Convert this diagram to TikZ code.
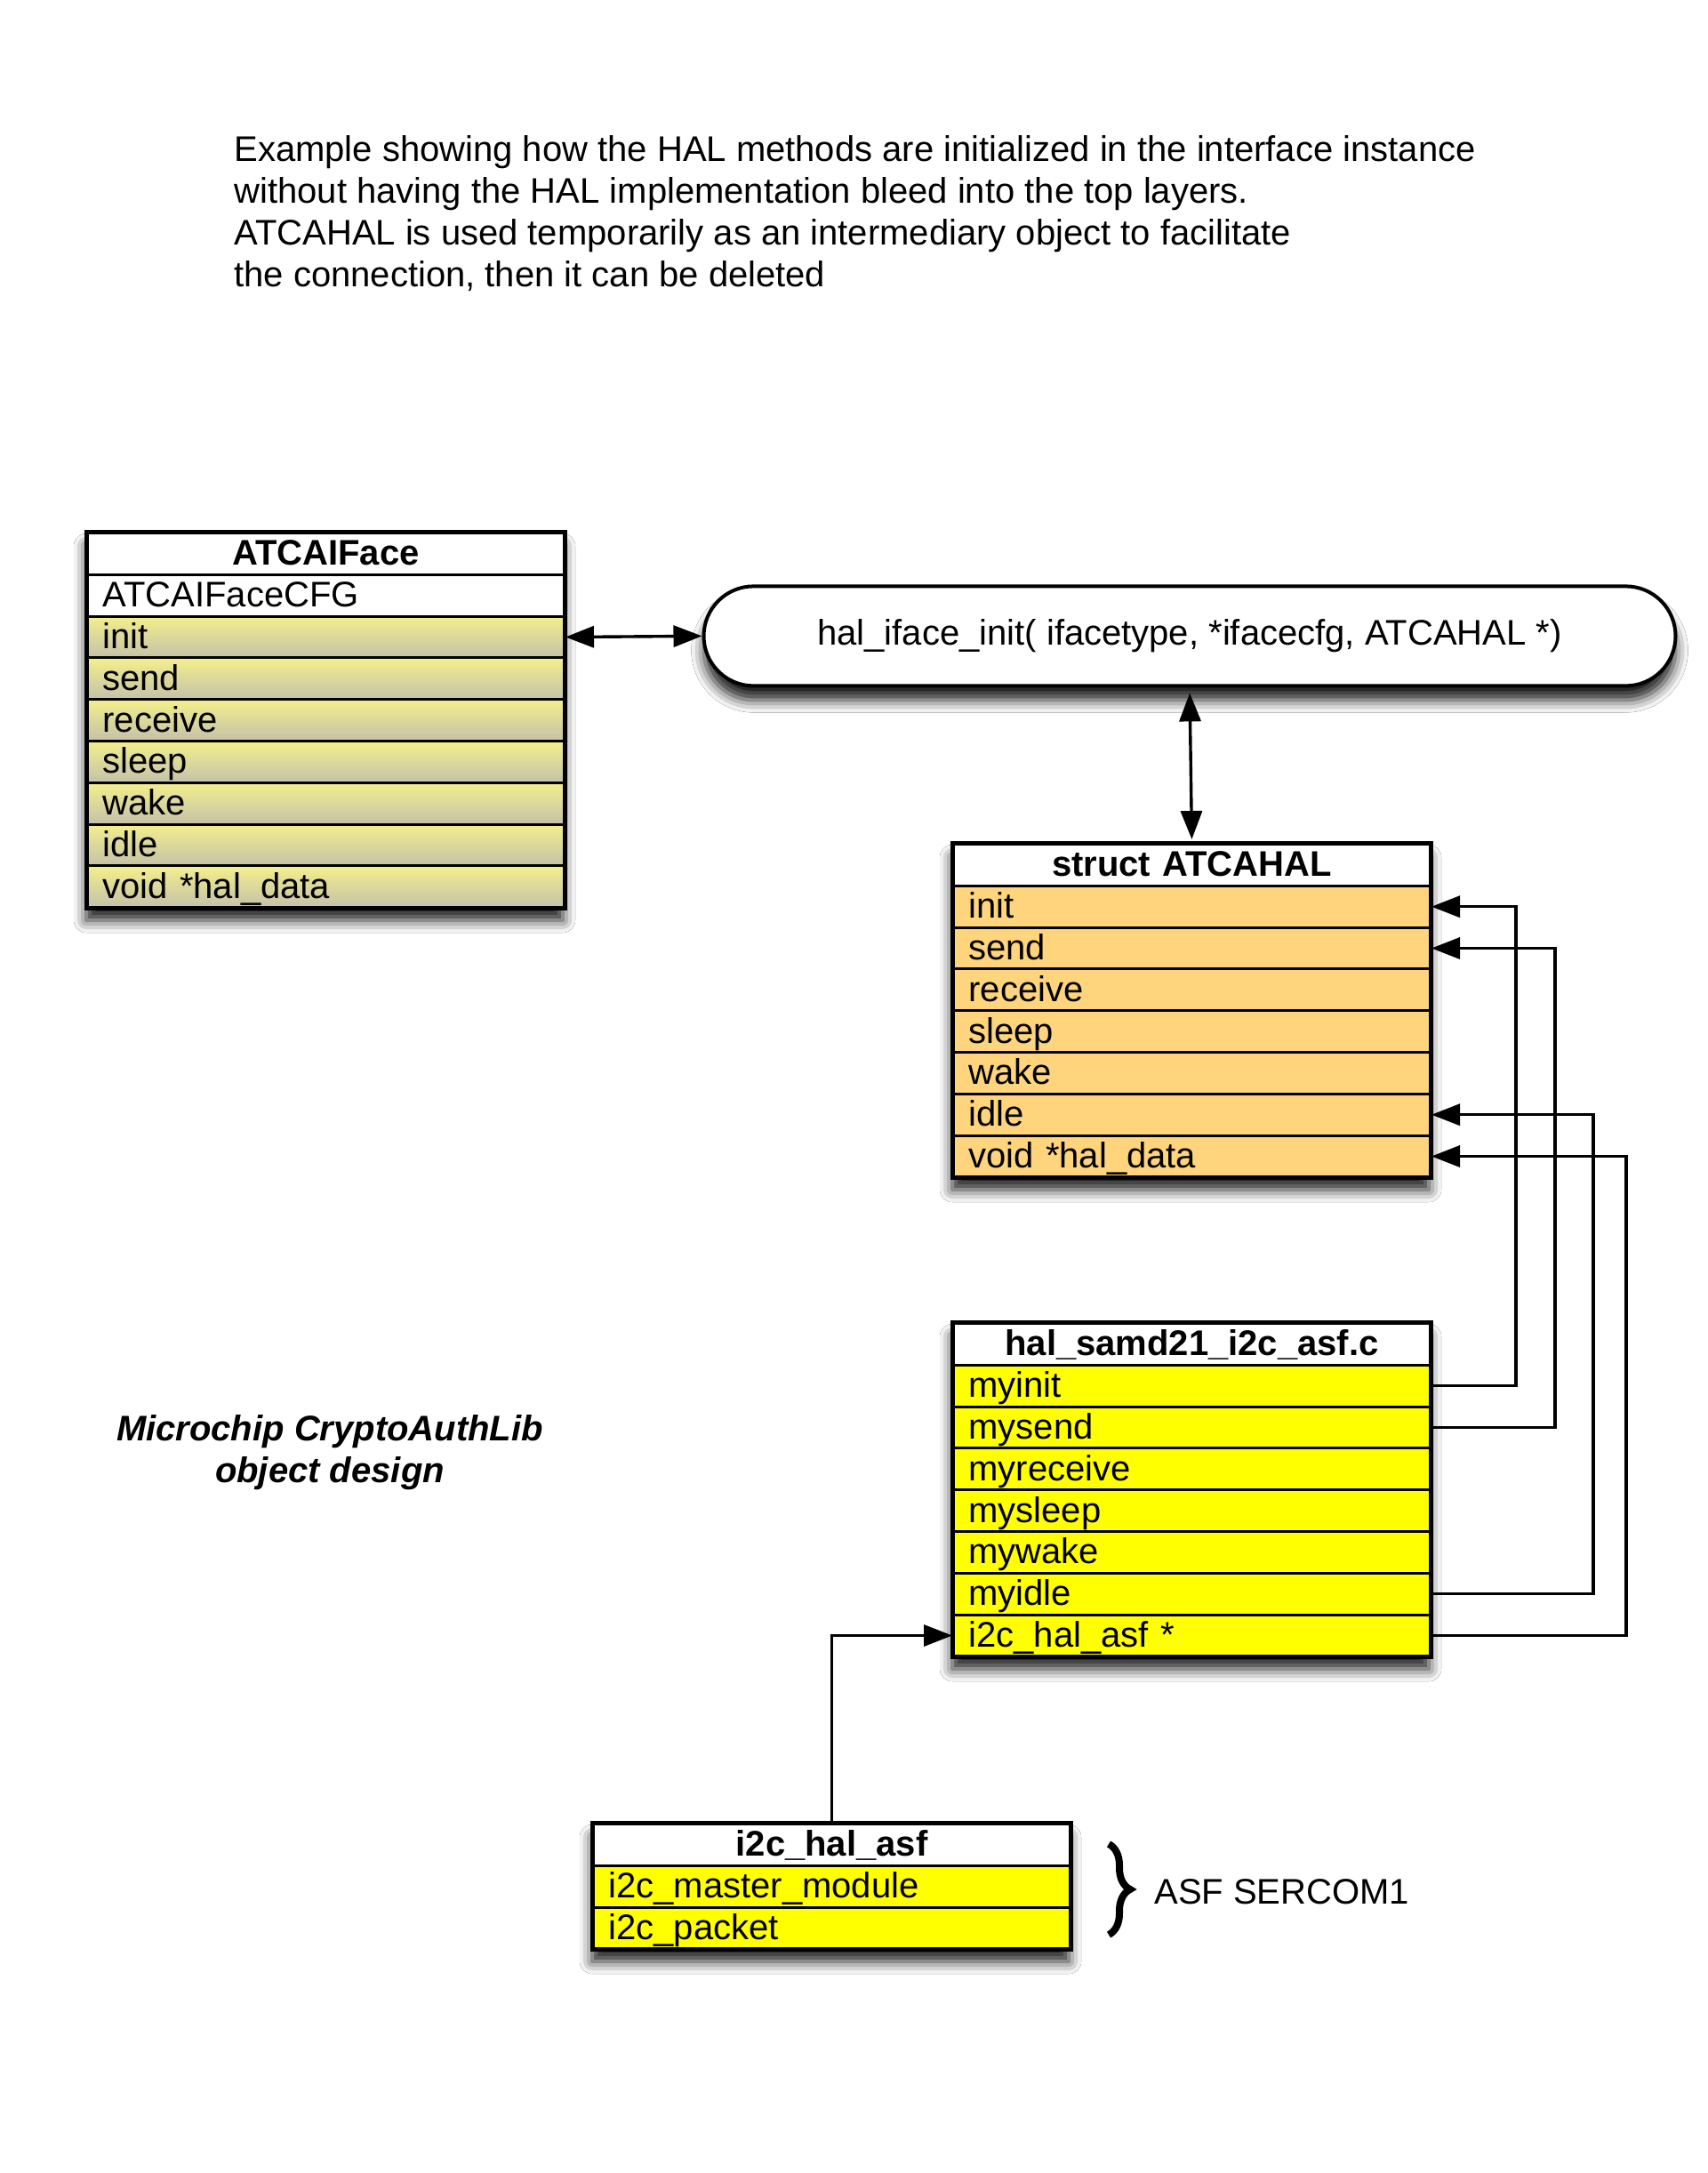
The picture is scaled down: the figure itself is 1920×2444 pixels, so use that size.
\documentclass[tikz,border=0pt]{standalone}
\usepackage{fontspec}
\setmainfont{Liberation Sans}
\usetikzlibrary{shapes.misc,arrows.meta,shadows.blur,decorations.pathreplacing}
\definecolor{ifacetop}{HTML}{F4EF8C}
\definecolor{ifacebot}{HTML}{C4C1AA}
\definecolor{halfill}{HTML}{FED47C}
\definecolor{implfill}{HTML}{FFFF00}
\newcommand\txtfont{\fontsize{20pt}{23.5pt}\selectfont}
\tikzset{
 row/.style={draw=black, line width=1.5pt, anchor=north west, minimum width=268pt,
   minimum height=23.4pt, text width=251pt, inner xsep=8.5pt, inner ysep=0pt,
   align=left, text height=15.5pt, text depth=2.5pt, font=\txtfont},
 headrow/.style={row, fill=white, align=center, font=\txtfont\bfseries},
 plainrow/.style={row, fill=white},
 ifacerow/.style={row, top color=ifacetop, bottom color=ifacebot},
 halrow/.style={row, fill=halfill},
 implrow/.style={row, fill=implfill},
 frame/.style={draw=black, line width=2pt},
 myshadow/.style={blur shadow={shadow xshift=0pt, shadow yshift=-8pt, shadow blur radius=7pt, shadow opacity=90}},
 shadowbox/.style={fill=white, myshadow},
 pill/.style={rounded rectangle, draw=black, line width=2pt, fill=white, minimum width=546.5pt,
   minimum height=56pt, inner sep=0pt, font=\txtfont, myshadow},
 conn/.style={draw=black, line width=1.7pt, -{Triangle[length=16pt,width=12pt,fill=black]}},
 biconn/.style={draw=black, line width=1.7pt, {Triangle[length=16pt,width=12pt,fill=black]}-{Triangle[length=16pt,width=12pt,fill=black]}},
 plaintext/.style={inner sep=0pt, font=\txtfont},
}
\begin{document}
\begin{tikzpicture}[x=0.5pt,y=-0.5pt]
\useasboundingbox[fill=white] (0,0) rectangle (1920,2444);

% title
\node[plaintext, anchor=north west, align=left] (title) at (263,152)
 {Example showing how the HAL methods are initialized in the interface instance\\
  without having the HAL implementation bleed into the top layers.\\
  ATCAHAL is used temporarily as an intermediary object to facilitate\\
  the connection, then it can be deleted};

% ATCAIFace
\path[shadowbox] (97,598) rectangle (633,1019);
\node[headrow] (f0) at (97,598) {ATCAIFace};
\node[plainrow] (f1) at (97,644.8) {ATCAIFaceCFG};
\foreach \t [count=\i from 2] in {init,send,receive,sleep,wake,idle,void *hal\_data}
  \node[ifacerow] (f\i) at (97,598+46.8*\i) {\t};
\draw[frame] (f0.north west) rectangle (f8.south east);

% hal_iface_init
\node[pill] (e) at (1338,715.4) {hal\_iface\_init( ifacetype, *ifacecfg, ATCAHAL *)};

% struct ATCAHAL
\path[shadowbox] (1071,948) rectangle (1607,1322);
\node[headrow] (a0) at (1071,948) {struct ATCAHAL};
\foreach \t [count=\i from 1] in {init,send,receive,sleep,wake,idle,void *hal\_data}
  \node[halrow] (a\i) at (1071,948+46.8*\i) {\t};
\draw[frame] (a0.north west) rectangle (a7.south east);

% hal_samd21_i2c_asf.c
\path[shadowbox] (1071,1487) rectangle (1607,1861);
\node[headrow] (s0) at (1071,1487) {hal\_samd21\_i2c\_asf.c};
\foreach \t [count=\i from 1] in {myinit,mysend,myreceive,mysleep,mywake,myidle,i2c\_hal\_asf *}
  \node[implrow] (s\i) at (1071,1487+46.8*\i) {\t};
\draw[frame] (s0.north west) rectangle (s7.south east);

% i2c_hal_asf
\path[shadowbox] (666,2050) rectangle (1202,2190);
\node[headrow] (i0) at (666,2050) {i2c\_hal\_asf};
\foreach \t [count=\i from 1] in {i2c\_master\_module,i2c\_packet}
  \node[implrow] (i\i) at (666,2050+46.8*\i) {\t};
\draw[frame] (i0.north west) rectangle (i2.south east);

% label
\node[plaintext, anchor=north, align=center, font=\txtfont\bfseries\itshape] (lbl) at (371,1591)
 {Microchip CryptoAuthLib\\object design};

% brace and ASF label
\draw[decorate, decoration={brace, amplitude=12pt}, line width=4pt] (1247,2074) -- (1247,2176);
\node[plaintext, anchor=base west] (asf) at (1298,2141) {ASF SERCOM1};

% connectors
\draw[biconn] (f2.east) -- (e.west);
\draw[biconn, shorten <=3pt, shorten >=2pt] (e.south) -- (a0.north);
\draw[conn] (s1.east) -- ++(95,0) |- (a1.east);
\draw[conn] (s2.east) -- ++(139,0) |- (a2.east);
\draw[conn] (s6.east) -- ++(182,0) |- (a6.east);
\draw[conn] (s7.east) -- ++(219,0) |- (a7.east);
\draw[conn] (i0.north) |- (s7.west);
\end{tikzpicture}
\end{document}
